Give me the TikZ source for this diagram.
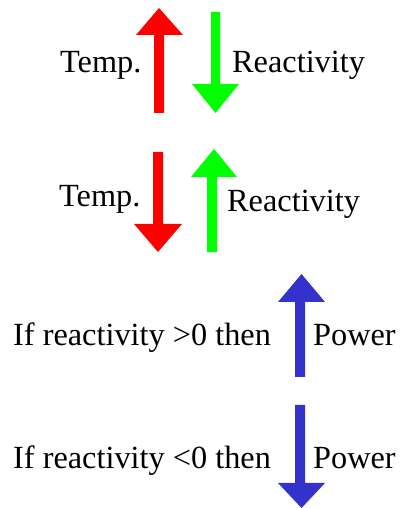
\documentclass[tikz,border=0pt]{standalone}
\usepackage{fontspec}
\setmainfont{Liberation Serif}
\definecolor{ared}{RGB}{255,0,0}
\definecolor{agreen}{RGB}{0,255,0}
\definecolor{ablue}{RGB}{51,51,204}
\begin{document}
\begin{tikzpicture}[x=1pt,y=1pt,
  lbl/.style={anchor=base west,inner sep=0pt,font=\fontsize{32.3}{36}\selectfont}]
\useasboundingbox (0,0) rectangle (400,508);
% y_tikz = 508 - y_px
% Row 1
\fill[ared] (154,508-113) -- (154,508-35) -- (136,508-35) -- (159,508-8) -- (183,508-35) -- (164,508-35) -- (164,508-113) -- cycle;
\fill[agreen] (211,508-12) -- (211,508-84) -- (192,508-84) -- (215.5,508-113) -- (239,508-84) -- (220,508-84) -- (220,508-12) -- cycle;
\node[lbl] (t1) at (60,435) {Temp.};
\node[lbl] (r1) at (232,435) {Reactivity};
% Row 2
\fill[ared] (153,508-152) -- (153,508-224) -- (134,508-224) -- (158,508-252) -- (182,508-224) -- (163,508-224) -- (163,508-152) -- cycle;
\fill[agreen] (207,508-252) -- (207,508-177) -- (191,508-177) -- (214,508-149) -- (237,508-177) -- (217,508-177) -- (217,508-252) -- cycle;
\node[lbl] (t2) at (59,301) {Temp.};
\node[lbl] (r2) at (227,296) {Reactivity};
% Row 3
\fill[ablue] (295,508-377) -- (295,508-302) -- (278,508-302) -- (301.5,508-274) -- (325,508-302) -- (305,508-302) -- (305,508-377) -- cycle;
\node[lbl] (c1) at (13,162) {If reactivity >0 then};
\node[lbl] (p1) at (313,162) {Power};
% Row 4
\fill[ablue] (295,508-405) -- (295,508-483) -- (278,508-483) -- (301.5,508-508) -- (325,508-483) -- (305,508-483) -- (305,508-405) -- cycle;
\node[lbl] (c2) at (13,39) {If reactivity <0 then};
\node[lbl] (p2) at (313,39) {Power};
\end{tikzpicture}
\end{document}
